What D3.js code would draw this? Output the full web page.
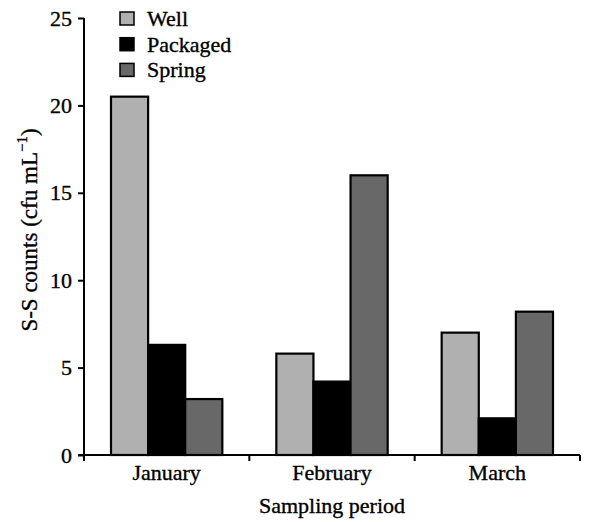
<!DOCTYPE html>
<html>
<head>
<meta charset="utf-8">
<script src="https://cdn.jsdelivr.net/npm/d3@7.9.0/dist/d3.min.js"></script>
<style>
  body { margin: 0; background: #fff; }
  text { font-family: "Liberation Serif", "Times New Roman", serif; fill: #000; stroke: #000; stroke-width: 0.35px; }
</style>
</head>
<body>
<svg id="chart" width="589" height="522"></svg>
<script>
// ---- data ----
const months = ["January", "February", "March"];
const series = ["Well", "Packaged", "Spring"];
const well = [20.5, 5.8, 7.0];
const packaged = [6.3, 4.2, 2.1];
const spring = [3.2, 16.0, 8.2];
const yTicks = [0, 5, 10, 15, 20, 25];

const colors = { Well: "#b0b0b0", Packaged: "#000000", Spring: "#686868" };
const values = { Well: well, Packaged: packaged, Spring: spring };

const width = 589, height = 522;
const margin = { top: 18, right: 9, bottom: 67, left: 84 };
const fs = 22;

const svg = d3.select("#chart");

let x0 = d3.scaleBand().domain(months).range([margin.left, width - margin.right]);
let x1 = d3.scaleBand().domain(series).range([27, x0.bandwidth() - 27]);
let y = d3.scaleLinear().domain([0, 25]).range([height - margin.bottom, margin.top]);

// bars
months.forEach((m, i) => {
  series.forEach((s) => {
    svg.append("rect")
      .attr("x", x0(m) + x1(s))
      .attr("y", y(values[s][i]))
      .attr("width", x1.bandwidth())
      .attr("height", y(0) - y(values[s][i]))
      .attr("fill", colors[s])
      .attr("stroke", "#000")
      .attr("stroke-width", 2.2);
  });
});

// y axis
let yAxis = svg.append("g")
  .attr("transform", `translate(${margin.left},0)`)
  .call(d3.axisLeft(y).tickValues(yTicks).tickSize(6).tickPadding(6));
yAxis.select(".domain").attr("d", `M0,${y(25)}V${y(0)}`).attr("stroke-width", 2);
yAxis.selectAll(".tick line").attr("stroke-width", 2);
yAxis.selectAll("text").attr("font-size", fs).attr("font-family", null);

// x axis: ticks at the category boundaries
let xAxis = svg.append("g")
  .attr("transform", `translate(0,${y(0)})`);
xAxis.append("path")
  .attr("d", `M${margin.left - 6},0H${width - margin.right}`)
  .attr("stroke", "#000").attr("stroke-width", 2).attr("fill", "none");
let bounds = months.map((m) => x0(m)).concat([x0.range()[1]]);
xAxis.selectAll(".xtick").data(bounds).join("line")
  .attr("x1", (d) => d).attr("x2", (d) => d)
  .attr("y1", 0).attr("y2", 6)
  .attr("stroke", "#000").attr("stroke-width", 2);
xAxis.selectAll(".xlab").data(months).join("text")
  .attr("x", (d) => x0(d) + x0.bandwidth() / 2)
  .attr("y", 25)
  .attr("text-anchor", "middle")
  .attr("font-size", fs)
  .text((d) => d);

// axis titles
svg.append("text")
  .attr("x", (margin.left + width - margin.right) / 2)
  .attr("y", 513)
  .attr("text-anchor", "middle")
  .attr("font-size", fs)
  .text("Sampling period");

let yt = svg.append("text")
  .attr("transform", `translate(37,230) rotate(-90)`)
  .attr("text-anchor", "middle")
  .attr("font-size", 23);
yt.append("tspan").text("S-S counts (cfu mL");
yt.append("tspan").attr("dy", -10).attr("font-size", 15).text("\u22121");
yt.append("tspan").attr("dy", 10).text(")");

// legend
let legend = svg.append("g").attr("transform", "translate(120,12)");
series.forEach((s, i) => {
  let row = legend.append("g").attr("transform", `translate(0,${i * 25.7})`);
  row.append("rect")
    .attr("x", 0).attr("y", 0).attr("width", 14).attr("height", 13)
    .attr("fill", colors[s]).attr("stroke", "#000").attr("stroke-width", 1.5);
  row.append("text")
    .attr("x", 27).attr("y", 14)
    .attr("font-size", fs)
    .text(s);
});
</script>
</body>
</html>
